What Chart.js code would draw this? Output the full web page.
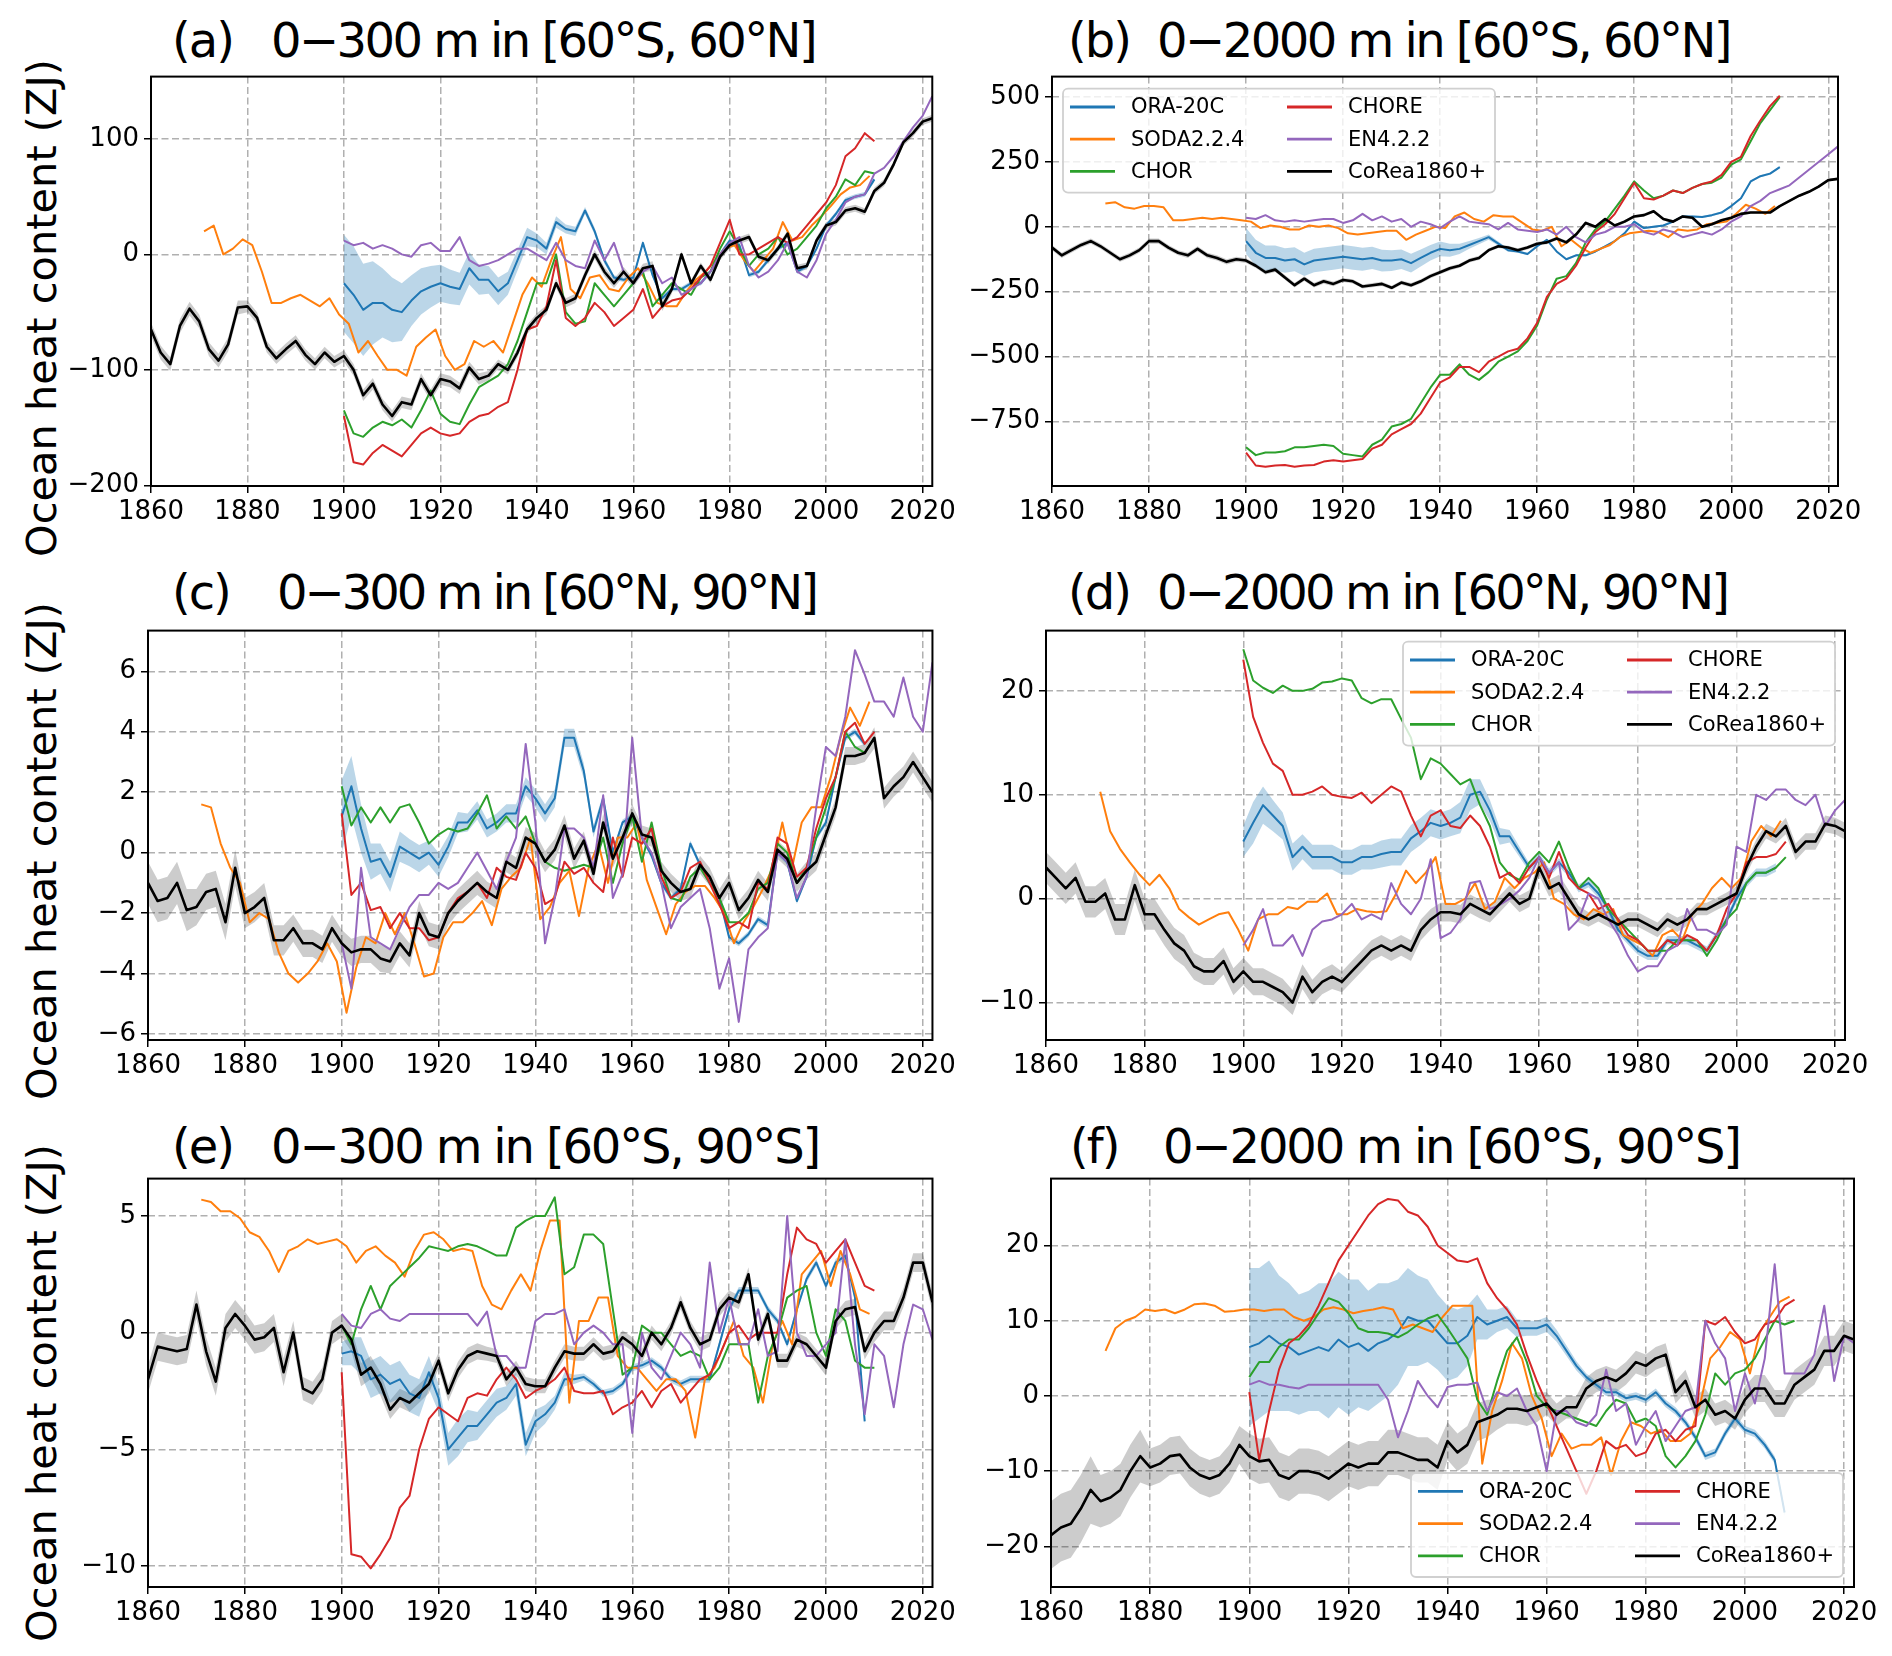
<!DOCTYPE html>
<html>
<head>
<meta charset="utf-8">
<title>Ocean heat content</title>
<script src="https://cdn.jsdelivr.net/npm/chart.js@4.4.1/dist/chart.umd.min.js"></script>
<style>
    html, body { margin: 0; padding: 0; background: #fff; }
    #page { position: relative; width: 1892px; height: 1656px; overflow: hidden; font-family: 'DejaVu Sans', sans-serif; color: #000; }
    #page canvas { position: absolute; }
    .ttl { position: absolute; font-size: 48px; line-height: 1; white-space: pre; }
    .ylab { position: absolute; font-size: 41.5px; white-space: nowrap; transform: translate(-50%, -50%) rotate(-90deg); }
</style>
</head>
<body>
<div id="page"></div>
<script>
/**
 * Ocean heat content, six panels (a)-(f)
 * values every 2 years
 */
const X_TICKS = [1860, 1880, 1900, 1920, 1940, 1960, 1980, 2000, 2020];
const STEP = 2;
const COREA_START = 1860;
const SODA_START = 1871;
const MODEL_START = 1900; // ORA-20C, CHOR, CHORE, EN4.2.2

// (a) 0-300 m, 60S-60N
const yTicksA = [-200, -100, 0, 100];
const coreaA = [-65, -85, -95, -62, -47, -58, -82, -92, -78, -46,
    -45, -55, -80, -90, -82, -75, -87, -95, -85, -93,
    -88, -100, -122, -112, -130, -140, -128, -130, -108, -122,
    -108, -110, -116, -98, -108, -105, -95, -100, -85, -65,
    -55, -48, -25, -42, -38, -18, 0, -15, -25, -15,
    -25, -12, -10, -45, -30, 0, -25, -10, -22, -2,
    8, 12, 15, -2, -5, 5, 18, -12, -10, 12,
    25, 28, 38, 40, 37, 55, 62, 78, 97, 105,
    115, 118];
const coreaSpreadA = [6, 6, 5, 5, 5, 5, 5, 4, 4, 4, 4, 3, 3, 3, 3, 3, 3];
const oraA = [-25, -35, -48, -42, -42, -48, -50, -40, -32, -28,
    -25, -28, -30, -12, -22, -22, -32, -25, -5, 15,
    12, 5, 28, 22, 20, 38, 20, -5, -20, -22,
    -20, 10, -18, -38, -30, -30, -25, -25, -15, 0,
    12, 8, -18, -15, -5, 5, 10, -15, -10, 5,
    25, 35, 47, 50, 52, 65];
const oraSpreadA = [42, 42, 40, 36, 30, 28, 25, 22, 20, 18,
    16, 15, 14, 14, 13, 12, 12, 10, 9, 8,
    6, 5, 5, 4, 4, 3, 3, 3, 2, 2,
    2, 2, 2, 2, 2, 2, 2, 2, 2, 2,
    2, 2, 2, 2, 2, 2, 2, 2, 2, 2,
    2, 2, 2, 2, 2, 2];
const sodaA = [20, 25, 0, 5, 13, 8, -15, -42, -42, -38,
    -35, -40, -45, -38, -52, -60, -85, -75, -88, -100,
    -100, -105, -80, -72, -65, -88, -100, -95, -75, -80,
    -75, -85, -60, -35, -20, -28, -5, 15, -30, -38,
    -20, -18, -30, -32, -20, -12, -25, -42, -45, -45,
    -32, -22, -15, -5, 5, 8, -5, -15, -5, 5,
    28, 12, 15, 25, 33, 42, 52, 58, 60, 68];
const chorA = [-135, -155, -158, -150, -145, -148, -143, -150, -135, -118,
    -138, -145, -147, -130, -115, -110, -105, -95, -75, -50,
    -25, -25, 0, -50, -60, -58, -25, -35, -45, -35,
    -25, -15, -45, -35, -25, -30, -35, -20, -15, 5,
    20, 5, -10, 0, 5, 15, 0, 5, 15, 25,
    40, 50, 65, 60, 72, 70];
const choreA = [-140, -180, -182, -172, -165, -170, -175, -165, -155, -150,
    -155, -157, -155, -145, -140, -138, -132, -128, -100, -65,
    -62, -45, -5, -55, -62, -55, -42, -50, -62, -55,
    -48, -30, -55, -45, -40, -38, -30, -20, -10, 10,
    30, 0, 0, 5, 10, 15, 10, 15, 25, 35,
    45, 60, 85, 92, 105, 98];
const en4A = [12, 8, 10, 5, 8, 5, 0, -2, 8, 10,
    3, 3, 15, -5, -10, -8, -5, 0, 5, 5,
    0, -5, 10, -5, -10, -12, 12, -5, 10, -15,
    -25, -15, -10, -25, -20, -35, -30, -25, -15, 0,
    10, 15, -10, -20, -15, -5, 10, -15, -20, -5,
    18, 30, 45, 50, 52, 70, 75, 85, 98, 110,
    120, 137];

// (b) 0-2000 m, 60S-60N
const yTicksB = [-750, -500, -250, 0, 250, 500];
const coreaB = [-80, -110, -90, -70, -55, -75, -100, -125, -110, -90,
    -55, -55, -80, -100, -110, -85, -110, -120, -135, -125,
    -130, -150, -175, -165, -195, -225, -200, -225, -210, -220,
    -205, -210, -230, -225, -220, -235, -215, -225, -210, -190,
    -175, -160, -150, -130, -120, -90, -75, -80, -90, -80,
    -65, -60, -45, -60, -30, 15, 0, 30, 5, 20,
    40, 45, 60, 30, 20, 40, 35, 0, 10, 25,
    35, 50, 55, 55, 55, 80, 100, 120, 135, 155,
    180, 185];
const coreaSpreadB = [10, 10, 10, 10, 9, 9, 8, 8, 8, 7, 7, 6, 6, 6, 5, 5, 5];
const oraB = [-55, -100, -120, -120, -130, -125, -145, -130, -125, -120,
    -115, -120, -125, -120, -130, -130, -125, -140, -120, -100,
    -85, -90, -85, -70, -55, -40, -65, -90, -95, -105,
    -75, -50, -95, -125, -110, -110, -95, -75, -55, -25,
    20, -5, 0, 5, 20, 40, 40, 38, 45, 55,
    80, 110, 175, 195, 205, 230];
const oraSpreadB = [50, 50, 48, 48, 47, 46, 45, 45, 45, 45,
    45, 45, 44, 43, 42, 40, 38, 36, 33, 30,
    28, 25, 20, 15, 12, 10, 8, 6, 5, 5,
    4, 4, 4, 4, 4, 4, 4, 4, 4, 4,
    4, 4, 4, 4, 4, 4, 4, 4, 4, 4,
    4, 4, 4, 4, 4, 4];
const sodaB = [90, 95, 75, 70, 80, 80, 75, 25, 25, 30,
    35, 30, 35, 30, 25, 20, -5, 5, 0, -10,
    -10, 5, 0, 5, -5, -25, -30, -25, -20, -15,
    -15, -50, -30, -15, 0, -5, 40, 55, 30, 20,
    45, 40, 40, 15, -10, -15, 0, -75, -50, -80,
    -100, -85, -70, -40, -25, -20, -15, -20, -40, -10,
    -15, -10, 10, 15, 20, 50, 85, 70, 50, 80];
const chorB = [-850, -880, -870, -870, -865, -850, -850, -845, -840, -845,
    -875, -880, -885, -840, -820, -770, -760, -740, -680, -620,
    -570, -570, -530, -570, -590, -560, -520, -500, -480, -440,
    -380, -280, -200, -190, -140, -60, -10, 20, 70, 120,
    175, 140, 110, 120, 140, 130, 150, 165, 170, 190,
    240, 260, 330, 400, 450, 500];
const choreB = [-870, -920, -925, -920, -918, -925, -920, -918, -905, -900,
    -905, -900, -895, -855, -840, -800, -780, -760, -720, -660,
    -600, -580, -540, -540, -560, -520, -500, -480, -470, -430,
    -370, -270, -220, -200, -150, -80, -20, 10, 50, 110,
    170, 110, 105, 120, 140, 130, 150, 165, 175, 200,
    250, 270, 350, 410, 465, 505];
const en4B = [35, 30, 45, 25, 20, 25, 20, 25, 30, 30,
    15, 25, 50, 25, 40, 20, 30, 0, 20, 10,
    -5, 20, 40, 20, 15, 10, -10, 15, -10, -15,
    -20, -10, -30, 0, -40, -60, -30, -20, 0, 0,
    10, -20, -30, -10, -20, -40, -30, -20, -30, -10,
    20, 40, 80, 100, 130, 145, 160, 190, 220, 250,
    280, 310];

// (c) 0-300 m, 60N-90N
const yTicksC = [-6, -4, -2, 0, 2, 4, 6];
const coreaC = [-1.0, -1.6, -1.5, -1.0, -1.9, -1.8, -1.3, -1.2, -2.3, -0.5,
    -2.0, -1.8, -1.5, -2.9, -2.9, -2.5, -3.0, -3.0, -3.2, -2.5,
    -3.0, -3.3, -3.2, -3.2, -3.5, -3.6, -3.0, -3.4, -2.0, -2.7,
    -2.8, -2.0, -1.6, -1.3, -1.0, -1.3, -1.5, -0.3, -0.5, 0.5,
    0.3, -0.3, 0.1, 0.9, -0.2, 0.4, -0.7, 1.0, -0.2, 0.5,
    1.3, 0.6, 0.5, -0.6, -1.0, -1.3, -1.2, -0.4, -0.8, -1.5,
    -1.0, -1.9, -1.5, -0.9, -1.3, 0.1, -0.2, -1.0, -0.6, -0.3,
    0.6, 1.5, 3.2, 3.2, 3.3, 3.8, 1.8, 2.2, 2.5, 3.0,
    2.5, 2.0];
const coreaSpreadC = [0.7, 0.6, 0.5, 0.45, 0.45, 0.4, 0.4, 0.35, 0.35, 0.3, 0.3, 0.3, 0.3, 0.3, 0.3, 0.35, 0.35];
const oraC = [1.2, 2.2, 0.8, -0.3, -0.2, -0.8, 0.2, 0.0, -0.2, 0.0,
    -0.4, 0.2, 1.0, 1.0, 1.4, 0.8, 1.0, 1.3, 1.3, 2.2,
    1.8, 1.3, 1.8, 3.8, 3.8, 2.7, 0.7, 1.8, 0.0, 1.0,
    1.2, 0.5, -0.1, -1.0, -1.5, -1.2, 0.3, -0.4, -1.0, -1.5,
    -2.8, -3.0, -2.7, -2.2, -2.4, 0.0, -0.3, -1.6, -0.8, 0.5,
    1.0, 2.5, 3.8, 4.0, 3.6];
const oraSpreadC = [1.2, 1.0, 0.8, 0.6, 0.5, 0.5, 0.5, 0.45, 0.45, 0.4,
    0.4, 0.35, 0.35, 0.3, 0.3, 0.3, 0.3, 0.3, 0.3, 0.3,
    0.3, 0.3, 0.3, 0.3, 0.3, 0.25, 0.2, 0.15, 0.12, 0.1,
    0.1, 0.1, 0.1, 0.1, 0.1, 0.1, 0.1, 0.1, 0.1, 0.1,
    0.1, 0.1, 0.1, 0.1, 0.1, 0.1, 0.1, 0.1, 0.1, 0.1,
    0.1, 0.1, 0.1, 0.1, 0.1];
const sodaC = [1.6, 1.5, 0.3, -0.5, -1.0, -2.3, -2.0, -2.2, -3.3, -4.0,
    -4.3, -4.0, -3.6, -3.0, -3.6, -5.3, -3.8, -2.8, -3.0, -2.0,
    -2.7, -2.0, -3.0, -4.1, -4.0, -2.8, -2.3, -2.3, -2.0, -1.6,
    -2.4, -1.2, -0.8, -0.5, 0.5, -2.2, -1.8, -1.0, -0.6, -2.1,
    -0.5, 0.3, -1.0, 0.5, 0.5, 1.0, -0.9, -1.8, -2.7, -1.7,
    -1.3, -1.1, -1.1, -1.5, -2.0, -3.0, -2.3, -1.8, -1.2, -0.5,
    1.0, -0.5, 1.0, 1.5, 1.5, 2.5, 3.8, 4.8, 4.2, 5.0];
const chorC = [2.2, 0.9, 1.5, 1.0, 1.5, 1.0, 1.5, 1.6, 1.0, 0.3,
    0.6, 0.8, 0.7, 0.8, 1.3, 1.9, 0.8, 1.2, 0.8, 1.2,
    0.3, -0.3, -0.5, -0.6, -0.5, -0.4, -0.5, 0.5, -1.0, 0.3,
    1.2, -0.3, 1.0, -0.5, -1.5, -1.6, -0.8, -0.5, -1.0, -1.5,
    -2.3, -2.3, -2.0, -1.2, -1.0, 0.3, 0.0, -1.0, -0.5, 0.5,
    1.5, 2.5, 4.0, 3.5, 3.3, 3.8];
const choreC = [1.3, -1.4, -1.0, -1.9, -1.8, -2.5, -2.0, -2.5, -2.5, -2.9,
    -2.8, -2.0, -1.5, -1.3, -1.0, -1.5, -0.5, -0.8, -0.9, 0.0,
    -0.5, -1.7, -1.5, -0.3, -0.7, -0.5, -1.0, -1.3, 0.5, -0.8,
    0.5, 0.3, 0.8, -0.8, -1.5, -1.3, -0.5, -0.3, -1.0, -1.7,
    -2.5, -2.3, -2.5, -1.0, -1.2, 0.5, 0.3, -0.8, -0.5, 0.8,
    1.8, 2.5, 4.0, 4.3, 3.6, 4.0];
const en4C = [-3.0, -4.5, -0.5, -2.8, -3.0, -3.2, -2.5, -1.8, -1.4, -1.4,
    -1.0, -1.2, -1.0, -0.5, 0.0, -0.6, -1.2, -0.3, 0.5, 3.6,
    1.0, -3.0, -1.5, 0.8, 0.8, 0.5, -0.5, 1.9, -1.5, -0.7,
    3.8, 0.5, 0.0, -1.0, -2.5, -1.8, -1.5, -1.2, -2.5, -4.5,
    -3.5, -5.6, -3.2, -2.8, -2.5, 0.0, -0.3, -1.5, -0.8, 1.5,
    3.5, 3.2, 4.5, 6.7, 5.9, 5.0, 5.0, 4.5, 5.8, 4.5,
    4.0, 6.3];

// (d) 0-2000 m, 60N-90N
const yTicksD = [-10, 0, 10, 20];
const coreaD = [3.0, 2.0, 1.0, 2.0, -0.3, -0.3, 0.5, -2.0, -2.0, 1.3,
    -1.5, -1.5, -3.0, -4.3, -5.0, -6.5, -7.0, -7.0, -6.0, -8.0,
    -7.0, -8.0, -8.0, -8.5, -9.0, -10.0, -7.5, -9.0, -8.0, -7.5,
    -8.0, -7.0, -6.0, -5.0, -4.5, -5.0, -4.5, -5.0, -3.0, -2.0,
    -1.3, -1.3, -1.5, -0.5, -1.0, -1.5, -0.5, 0.5, -0.5, 0.0,
    3.0, 1.0, 1.5, 0.0, -1.5, -2.0, -1.5, -2.0, -2.5, -2.0,
    -2.0, -2.5, -3.0, -2.0, -2.5, -2.0, -1.0, -1.0, -0.5, 0.0,
    0.5, 3.0, 5.0, 6.5, 6.0, 7.0, 4.5, 5.5, 5.5, 7.2,
    7.0, 6.5];
const coreaSpreadD = [1.5, 1.5, 1.5, 1.3, 1.3, 1.2, 1.0, 1.0, 0.9, 0.8, 0.8, 0.7, 0.7, 0.6, 0.7, 0.8, 0.8];
const oraD = [5.5, 7.3, 9.0, 8.0, 7.0, 4.0, 5.0, 4.0, 4.0, 4.0,
    3.5, 3.5, 4.0, 4.0, 4.3, 4.5, 4.5, 5.8, 6.5, 7.3,
    7.0, 7.3, 7.8, 10.0, 10.3, 8.5, 6.0, 6.0, 4.5, 3.0,
    4.0, 2.5, 3.5, 2.5, 1.0, 1.5, 0.5, -1.0, -3.0, -4.0,
    -5.0, -5.5, -5.5, -4.0, -4.0, -4.0, -4.5, -5.0, -3.5, -2.0,
    0.0, 1.5, 2.5, 2.5, 3.0];
const oraSpreadD = [1.5, 2.0, 1.8, 1.5, 1.3, 1.3, 1.2, 1.2, 1.2, 1.2,
    1.2, 1.2, 1.2, 1.2, 1.3, 1.3, 1.3, 1.3, 1.3, 1.3,
    1.3, 1.3, 1.5, 1.5, 1.2, 1.0, 0.8, 0.6, 0.5, 0.4,
    0.4, 0.4, 0.4, 0.4, 0.4, 0.4, 0.4, 0.4, 0.4, 0.4,
    0.4, 0.4, 0.4, 0.4, 0.4, 0.4, 0.4, 0.4, 0.4, 0.4,
    0.4, 0.4, 0.4, 0.4, 0.4];
const sodaD = [10.3, 6.5, 4.8, 3.5, 2.3, 1.3, 2.3, 1.0, -1.0, -1.8,
    -2.5, -2.0, -1.5, -1.3, -3.0, -5.0, -2.0, -1.5, -1.5, -0.8,
    -1.0, -0.3, -0.3, 0.5, -1.5, -1.5, -1.0, -1.2, -1.3, -1.2,
    0.5, 2.7, 1.5, 2.5, 4.0, -0.5, -0.5, 0.0, 1.5, -1.0,
    -0.3, 2.0, 1.0, 2.0, 2.5, 3.5, 0.0, -0.5, -1.5, -2.0,
    -1.0, -1.5, -1.0, -3.5, -4.0, -4.5, -5.5, -3.5, -3.0, -4.0,
    -1.5, -0.5, 1.0, 2.0, 1.0, 2.0, 5.5, 7.0, 6.0, 7.5];
const chorD = [24, 21, 20.3, 19.8, 20.5, 20, 20, 20.2, 20.8, 20.9,
    21.2, 21, 19.3, 18.8, 19.2, 19.2, 17.3, 15.5, 11.5, 13.5,
    13, 12, 11, 11.5, 9, 7, 3.5, 2.3, 1.8, 3.5,
    4.5, 3.5, 5.5, 3.0, 1.0, 2.0, 1.0, -1.0, -2.0, -3.0,
    -4.0, -5.0, -5.0, -5.0, -4.0, -4.0, -4.0, -5.5, -4.0, -2.0,
    -1.0, 1.5, 2.5, 2.5, 3.0, 4.0];
const choreD = [23, 17.5, 15, 13, 12.3, 10, 10, 10.3, 10.8, 10,
    9.8, 9.7, 10.2, 9.2, 10, 10.8, 10.3, 8, 6, 8,
    8.5, 7, 6.8, 8, 7, 5, 2, 2.5, 1.5, 3,
    4, 2, 4.5, 2, 1, 0.5, -1, -0.5, -2, -3.5,
    -4, -5, -5, -4, -4.5, -3.5, -4, -5, -3.5, -1,
    0.5, 3.5, 4, 4, 4.3, 5.5];
const en4D = [-4.5, -3.0, -1.0, -4.5, -4.5, -3.5, -5.5, -3.0, -2.2, -2.0,
    -1.5, -0.5, -2.0, -1.5, -2.0, 1.5, -0.5, -1.5, 0.0, 3.8,
    -3.8, -3.3, -2.0, 1.5, 1.7, -1.0, -0.6, 0.0, 0.8, 2.0,
    4.0, 2.5, 3.5, -3.0, -2.0, 0.5, 0.0, -2.0, -3.5, -5.5,
    -7.0, -6.5, -6.5, -5.0, -4.5, -1.0, -3.0, -3.0, -3.5, -2.5,
    5.0, 4.5, 10.0, 9.5, 10.5, 10.5, 9.5, 9.0, 10.0, 7.0,
    8.5, 9.5];

// (e) 0-300 m, 60S-90S
const yTicksE = [-10, -5, 0, 5];
const coreaE = [-2.0, -0.6, -0.7, -0.8, -0.7, 1.2, -0.8, -2.1, 0.2, 0.8,
    0.3, -0.3, -0.2, 0.2, -1.7, 0.0, -2.4, -2.6, -2.0, 0.0,
    0.3, -0.3, -1.8, -1.5, -2.2, -3.3, -2.8, -3.0, -2.6, -2.2,
    -1.2, -2.6, -1.6, -1.0, -0.8, -0.9, -1.0, -2.0, -1.5, -2.2,
    -2.3, -2.3, -1.5, -0.8, -0.9, -0.9, -0.5, -0.9, -0.8, -0.2,
    -0.5, -1.0, 0.0, -0.5, 0.2, 1.3, 0.2, -0.5, -0.3, 1.0,
    1.5, 1.3, 2.5, -0.3, 0.8, -1.2, -1.2, -0.3, -0.5, -1.0,
    -1.5, 0.5, 1.0, 1.1, -0.8, 0.0, 0.5, 0.5, 1.5, 3.0,
    3.0, 1.3];
const coreaSpreadE = [0.6, 0.6, 0.6, 0.5, 0.5, 0.4, 0.35, 0.3, 0.3, 0.3, 0.3, 0.3, 0.3, 0.3, 0.35, 0.4, 0.4];
const oraE = [-0.9, -0.8, -1.0, -2.0, -1.8, -2.2, -2.0, -2.6, -2.8, -1.7,
    -2.8, -5.0, -4.5, -4.0, -4.0, -3.5, -3.0, -2.8, -2.2, -4.8,
    -3.8, -3.5, -3.0, -2.0, -2.0, -1.9, -2.2, -2.6, -2.5, -2.2,
    -1.5, -1.4, -1.2, -1.5, -2.0, -2.2, -2.0, -2.0, -2.0, -0.5,
    1.0, 1.8, 1.8, 1.8, 1.0, 0.5, -0.5, 1.0, 2.3, 3.0,
    2.0, 3.0, 3.3, 1.5, -3.8];
const oraSpreadE = [0.5, 0.6, 0.8, 0.8, 0.8, 0.8, 0.8, 0.8, 0.8, 0.7,
    0.6, 0.7, 0.8, 0.7, 0.6, 0.6, 0.6, 0.5, 0.5, 0.5,
    0.5, 0.4, 0.3, 0.3, 0.2, 0.15, 0.15, 0.15, 0.15, 0.15,
    0.15, 0.15, 0.15, 0.15, 0.15, 0.15, 0.15, 0.15, 0.15, 0.15,
    0.15, 0.15, 0.15, 0.15, 0.15, 0.15, 0.15, 0.15, 0.15, 0.15,
    0.15, 0.15, 0.15, 0.15, 0.15];
const sodaE = [5.7, 5.6, 5.2, 5.2, 4.9, 4.3, 4.1, 3.5, 2.6, 3.5,
    3.7, 4.0, 3.8, 3.9, 4.0, 3.7, 3.0, 3.5, 3.7, 3.3,
    3.0, 2.4, 3.5, 4.2, 4.3, 4.0, 3.5, 3.6, 3.5, 2.0,
    1.2, 1.0, 1.8, 2.5, 1.8, 3.5, 4.8, 4.8, -3.0, 0.5,
    0.5, 1.5, 1.5, -1.0, -1.5, -1.5, -2.0, -2.5, -2.0, -2.0,
    -2.5, -4.5, -2.0, -1.5, -0.5, 0.5, -1.0, -1.5, -3.0, -0.5,
    0.5, -0.5, 2.5, 3.0, 3.5, 2.0, 3.5, 2.5, 1.0, 0.8];
const chorE = [0.3, -0.5, 1.0, 2.0, 1.0, 2.0, 2.4, 2.8, 3.2, 3.7,
    3.6, 3.5, 3.7, 3.8, 3.7, 3.5, 3.3, 3.3, 4.5, 4.8,
    5.0, 5.0, 5.8, 2.5, 2.8, 4.2, 4.2, 3.8, 1.0, -1.8,
    -1.5, 0.3, 0.0, 0.0, -0.5, -1.0, -0.8, -1.0, -2.0, -1.5,
    -0.5, -0.5, -0.5, -3.0, -1.0, 0.0, 1.5, 1.8, 2.0, 0.0,
    -1.0, 1.0, 0.5, -1.2, -1.5, -1.5];
const choreE = [-1.7, -9.5, -9.6, -10.1, -9.5, -8.8, -7.5, -7.0, -5.0, -3.7,
    -3.2, -3.5, -3.8, -2.8, -2.6, -2.7, -2.0, -1.5, -2.0, -2.8,
    -2.5, -2.3, -2.0, -1.5, -2.5, -2.6, -2.6, -2.5, -3.5, -3.2,
    -3.0, -2.5, -3.2, -2.5, -2.2, -3.0, -2.5, -2.0, -1.8, -1.0,
    0.0, 0.3, -0.3, 0.0, 0.0, 0.0, 2.5, 4.5, 4.0, 3.8,
    3.0, 3.5, 4.0, 3.0, 2.0, 1.8];
const en4E = [0.8, 0.3, 0.2, 0.8, 1.0, 0.6, 0.5, 0.8, 0.8, 0.8,
    0.8, 0.8, 0.8, 0.8, 0.3, 0.9, -1.0, -1.0, -1.5, -1.5,
    0.5, 0.8, 0.8, 1.0, -0.5, 0.0, 0.3, 0.0, -0.5, -0.5,
    -4.3, 0.0, -1.5, -2.0, -1.0, 0.0, -0.5, -1.5, 3.0, 0.0,
    1.5, -0.5, -0.5, 1.0, -1.0, -0.8, 5.0, 0.0, -1.0, -1.0,
    -0.5, 0.0, 4.0, -0.5, -3.5, -0.5, -1.0, -3.2, -0.5, 1.2,
    1.0, -0.3];

// (f) 0-2000 m, 60S-90S
const yTicksF = [-20, -10, 0, 10, 20];
const coreaF = [-18.5, -17.5, -17.0, -15.0, -12.5, -14.0, -13.5, -12.5, -10.0, -8.0,
    -9.5, -9.0, -8.0, -7.8, -9.5, -10.5, -11.0, -10.5, -9.0, -6.5,
    -8.0, -8.7, -8.5, -10.5, -11.0, -10.0, -10.0, -10.3, -11.0, -10.0,
    -9.0, -9.5, -9.0, -9.0, -7.5, -7.5, -8.0, -8.5, -8.5, -9.5,
    -6.0, -7.5, -6.5, -3.5, -3.0, -2.5, -1.7, -1.7, -2.0, -1.5,
    -1.0, -2.5, -1.5, -1.5, 1.0, 2.0, 2.5, 2.0, 3.0, 4.5,
    4.0, 5.0, 5.5, 0.5, 2.0, -1.5, -0.5, -2.5, -2.0, -3.0,
    -0.5, 1.0, 1.0, -1.0, -1.0, 1.5, 2.5, 3.5, 6.0, 6.0,
    8.0, 7.5];
const coreaSpreadF = [4.5, 3.5, 2.5, 2.5, 3, 3, 3, 3, 2.5, 2, 1.5, 1.5, 1.5, 1.5, 1.8, 2, 2];
const oraF = [6.5, 7.0, 8.0, 7.0, 6.5, 5.5, 6.0, 6.5, 6.0, 7.5,
    6.5, 7.0, 6.0, 7.0, 7.5, 8.5, 10.5, 10.0, 10.0, 8.5,
    7.0, 7.0, 8.0, 10.5, 9.5, 10.0, 10.5, 9.0, 9.0, 9.0,
    9.5, 8.0, 6.0, 4.0, 2.5, 1.5, 0.5, 0.5, -0.3, 0.0,
    -0.5, 0.5, -1.0, -2.0, -3.5, -5.5, -8.0, -7.5, -5.0, -3.0,
    -4.5, -5.0, -6.5, -8.5, -15.5];
const oraSpreadF = [10.5, 10, 10, 9, 8.5, 8, 8, 8.5, 9, 9,
    9, 8.5, 8, 8, 7.5, 7, 6.5, 6, 5.5, 5,
    5, 4.5, 4, 3, 2, 1.5, 1.5, 1.2, 1, 1,
    1, 0.8, 0.7, 0.6, 0.5, 0.5, 0.5, 0.5, 0.5, 0.5,
    0.5, 0.5, 0.5, 0.5, 0.5, 0.5, 0.5, 0.5, 0.5, 0.5,
    0.5, 0.5, 0.5, 0.5, 0.5];
const sodaF = [6.0, 9.0, 10.0, 10.5, 11.5, 11.3, 11.5, 11.0, 11.5, 12.2,
    12.3, 12.0, 11.2, 11.3, 11.5, 11.5, 11.3, 11.5, 11.5, 10.5,
    10.0, 10.5, 11.5, 11.8, 11.5, 11.0, 11.3, 11.5, 11.8, 11.5,
    9.0, 9.5, 9.0, 8.5, 10.5, 12.0, 12.0, 12.0, -9.0, -2.0,
    2.0, 7.0, 5.0, 0.0, -3.0, -8.0, -5.0, -7.0, -6.5, -6.5,
    -5.5, -10.5, -6.0, -3.5, -4.0, -5.0, -4.5, -6.0, -6.0, -5.0,
    -1.0, 5.0, 6.5, 8.5, 7.5, 3.0, 8.5, 10.5, 12.5, 13.2];
const chorF = [2.5, 4.5, 4.5, 6.5, 7.5, 7.5, 9.0, 11.0, 13.0, 12.5,
    11.0, 9.0, 8.5, 8.5, 8.3, 7.8, 8.5, 9.5, 10.3, 10.8,
    9.0, 7.0, 5.0, -0.5, -2.5, 2.0, 6.0, 7.8, 4.5, 0.0,
    -1.5, -2.0, -2.5, -3.0, -3.5, -4.0, -2.0, -0.5, -1.0, -3.5,
    -3.0, -4.0, -8.0, -9.5, -8.0, -6.0, -2.5, 3.0, 1.5, 3.0,
    3.5, 5.0, 7.5, 10.0, 9.5, 10.0];
const choreF = [0.5, -8.5, -2.0, 3.5, 7.0, 8.0, 9.5, 12.0, 15.0, 18.0,
    20.0, 22.0, 24.0, 25.5, 26.2, 26.0, 24.5, 24.0, 22.5, 20.0,
    19.0, 18.0, 17.8, 18.3, 15.0, 13.0, 11.5, 9.5, 5.5, 2.0,
    -1.0, -4.0, -7.0, -10.0, -13.0, -10.0, -6.0, -7.0, -6.5, -8.0,
    -7.5, -5.0, -4.5, -6.0, -4.5, -4.0, 10.0, 9.5, 10.5, 8.5,
    7.0, 7.5, 9.5, 10.0, 12.0, 12.8];
const en4F = [1.5, 2.0, 1.5, 1.5, 1.2, 1.0, 1.5, 1.5, 1.5, 1.5,
    1.5, 1.5, 1.5, 1.5, -0.5, -5.5, -2.0, 2.0, 0.0, -1.5,
    1.2, 1.5, 1.5, 1.8, -2.0, 0.5, 0.0, 1.0, -2.0, -4.0,
    -10.0, -2.0, -2.0, -3.5, -4.0, -2.5, 3.5, -2.0, -1.0, -6.5,
    -4.0, -2.0, -6.0, -4.0, -2.0, -1.5, 10.0, 7.0, 5.0, -2.0,
    3.0, -1.0, 5.0, 17.5, 3.0, 3.0, 3.0, 5.5, 12.0, 2.0,
    8.0, 7.0];

(function () {
    'use strict';

    const X_MIN = 1860;
    const X_MAX = 2022;
    const FONT = 'DejaVu Sans';

    const SERIES = [
        { key: 'ora', label: 'ORA-20C', color: '#1f77b4', start: MODEL_START },
        { key: 'soda', label: 'SODA2.2.4', color: '#ff7f0e', start: SODA_START },
        { key: 'chor', label: 'CHOR', color: '#2ca02c', start: MODEL_START },
        { key: 'chore', label: 'CHORE', color: '#d62728', start: MODEL_START },
        { key: 'en4', label: 'EN4.2.2', color: '#9467bd', start: MODEL_START },
        { key: 'corea', label: 'CoRea1860+', color: '#000000', start: COREA_START }
    ];

    // plot = chart area [l, t, r, b], box = canvas [l, t, r, b] in page px
    // titleX = [left, right] of the title text
    const PANELS = [
        { tag: '(a)', title: '0\u2212300 m in [60°S, 60°N]', yRange: [-200.6, 154], yTicks: yTicksA,
          d: { ora: oraA, oraSpread: oraSpreadA, soda: sodaA, chor: chorA, chore: choreA, en4: en4A, corea: coreaA, coreaSpread: coreaSpreadA },
          plot: [151, 71, 937, 486], box: [0, 56, 960, 552], tagX: 172, titleX: [271, 815], titleTop: 16, ylabelY: 308 },
        { tag: '(b)', title: '0\u22122000 m in [60°S, 60°N]', yRange: [-999, 579], yTicks: yTicksB,
          d: { ora: oraB, oraSpread: oraSpreadB, soda: sodaB, chor: chorB, chore: choreB, en4: en4B, corea: coreaB, coreaSpread: coreaSpreadB },
          plot: [1052, 71, 1838, 486], box: [960, 56, 1892, 552], tagX: 1068, titleX: [1157, 1730], titleTop: 16,
          legend: { corner: 'tl', dx: 11, dy: 12 } },
        { tag: '(c)', title: '0\u2212300 m in [60°N, 90°N]', yRange: [-6.2, 7.35], yTicks: yTicksC,
          d: { ora: oraC, oraSpread: oraSpreadC, soda: sodaC, chor: chorC, chore: choreC, en4: en4C, corea: coreaC, coreaSpread: coreaSpreadC },
          plot: [148, 625, 948, 1040], box: [0, 610, 960, 1106], tagX: 172, titleX: [277, 816], titleTop: 568, ylabelY: 851 },
        { tag: '(d)', title: '0\u22122000 m in [60°N, 90°N]', yRange: [-13.6, 25.8], yTicks: yTicksD,
          d: { ora: oraD, oraSpread: oraSpreadD, soda: sodaD, chor: chorD, chore: choreD, en4: en4D, corea: coreaD, coreaSpread: coreaSpreadD },
          plot: [1046, 625, 1845, 1040], box: [960, 610, 1892, 1106], tagX: 1068, titleX: [1157, 1727], titleTop: 568,
          legend: { corner: 'tr', dx: 10, dy: 11 } },
        { tag: '(e)', title: '0\u2212300 m in [60°S, 90°S]', yRange: [-10.9, 6.6], yTicks: yTicksE,
          d: { ora: oraE, oraSpread: oraSpreadE, soda: sodaE, chor: chorE, chore: choreE, en4: en4E, corea: coreaE, coreaSpread: coreaSpreadE },
          plot: [148, 1173, 951, 1587], box: [0, 1158, 960, 1656], tagX: 172, titleX: [271, 819], titleTop: 1122, ylabelY: 1393 },
        { tag: '(f)', title: '0\u22122000 m in [60°S, 90°S]', yRange: [-25.4, 28.9], yTicks: yTicksF,
          d: { ora: oraF, oraSpread: oraSpreadF, soda: sodaF, chor: chorF, chore: choreF, en4: en4F, corea: coreaF, coreaSpread: coreaSpreadF },
          plot: [1051, 1173, 1854, 1587], box: [960, 1158, 1892, 1656], tagX: 1070, titleX: [1163, 1740], titleTop: 1122,
          legend: { corner: 'br', dx: 11, dy: 10 } }
    ];

    const toPoints = (values, start) => values.map((y, i) => ({ x: start + STEP * i, y }));

    // ORA spread is given per sample, CoRea spread per decade
    const bandPoints = (values, spread, start, sign, perDecade) => values.map((y, i) => {
        const x = start + STEP * i;
        const s = perDecade ? spread[Math.floor((x - COREA_START) / 10)] : spread[i];
        return { x, y: y + sign * s };
    });

    const fmtTick = v => (v < 0 ? '\u2212' + Math.abs(v) : String(v));

    const framePlugin = {
        id: 'frame',
        afterDraw(chart) {
            const { ctx, chartArea: a } = chart;
            ctx.save();
            ctx.strokeStyle = '#000';
            ctx.lineWidth = 2;
            ctx.strokeRect(a.left, a.top, a.right - a.left, a.bottom - a.top);
            ctx.restore();
        }
    };

    // two-column legend box like matplotlib's ncol=2
    const legendPlugin = {
        id: 'ohcLegend',
        afterDatasetsDraw(chart, args, opts) {
            if (!opts || !opts.corner) return;
            const { ctx, chartArea: a } = chart;
            const w = 432, h = 104, r = 5;
            const x = opts.corner.endsWith('l') ? a.left + opts.dx : a.right - opts.dx - w;
            const y = opts.corner.startsWith('t') ? a.top + opts.dy : a.bottom - opts.dy - h;

            ctx.save();
            ctx.beginPath();
            ctx.moveTo(x + r, y);
            ctx.arcTo(x + w, y, x + w, y + h, r);
            ctx.arcTo(x + w, y + h, x, y + h, r);
            ctx.arcTo(x, y + h, x, y, r);
            ctx.arcTo(x, y, x + w, y, r);
            ctx.closePath();
            ctx.fillStyle = 'rgba(255,255,255,0.8)';
            ctx.fill();
            ctx.strokeStyle = '#d0d0d0';
            ctx.lineWidth = 1.8;
            ctx.stroke();

            ctx.font = '21px "' + FONT + '"';
            ctx.textBaseline = 'middle';
            ctx.fillStyle = '#000';
            SERIES.forEach((s, i) => {
                const col = Math.floor(i / 3);
                const row = i % 3;
                const lx = x + (col === 0 ? 7 : 224);
                const ly = y + 18.4 + row * 32.2;
                ctx.beginPath();
                ctx.moveTo(lx, ly);
                ctx.lineTo(lx + 45, ly);
                ctx.strokeStyle = s.color;
                ctx.lineWidth = 2.8;
                ctx.stroke();
                ctx.fillText(s.label, lx + 61, ly + 1);
            });
            ctx.restore();
        }
    };

    class OhcPanel {
        constructor(spec, page) {
            this.spec = spec;
            this.page = page;
        }

        render() {
            this.addTexts();
            this.addChart();
        }

        addTexts() {
            const s = this.spec;
            const tag = this.addDiv('ttl', s.tag, s.tagX, s.titleTop);
            tag.style.letterSpacing = '-2px';
            const title = this.addDiv('ttl', s.title, s.titleX[0], s.titleTop);
            // tighten the spacing so the title spans the same width as the original
            const natural = title.getBoundingClientRect().width;
            const n = Array.from(s.title).length;
            title.style.letterSpacing = ((s.titleX[1] - s.titleX[0] - natural) / n).toFixed(2) + 'px';
            if (s.ylabelY) {
                this.addDiv('ylab', 'Ocean heat content (ZJ)', 41, s.ylabelY);
            }
        }

        addDiv(cls, text, left, top) {
            const el = document.createElement('div');
            el.className = cls;
            el.textContent = text;
            el.style.left = left + 'px';
            el.style.top = top + 'px';
            this.page.appendChild(el);
            return el;
        }

        buildDatasets() {
            const d = this.spec.d;
            const base = { pointRadius: 0, tension: 0, borderJoinStyle: 'round' };
            const band = (pts, color, order, fill) => Object.assign({}, base, {
                data: pts, borderWidth: 0, borderColor: 'rgba(0,0,0,0)',
                backgroundColor: color, fill, order
            });
            const line = (s, order, width) => Object.assign({}, base, {
                label: s.label, data: toPoints(d[s.key], s.start), borderColor: s.color,
                backgroundColor: s.color, borderWidth: width, fill: false, order
            });
            const sets = [
                band(bandPoints(d.corea, d.coreaSpread, COREA_START, 1, true), 'rgba(0,0,0,0.2)', 20, '+1'),
                band(bandPoints(d.corea, d.coreaSpread, COREA_START, -1, true), 'rgba(0,0,0,0.2)', 20, false),
                band(bandPoints(d.ora, d.oraSpread, MODEL_START, 1, false), 'rgba(31,119,180,0.3)', 19, '+1'),
                band(bandPoints(d.ora, d.oraSpread, MODEL_START, -1, false), 'rgba(31,119,180,0.3)', 19, false)
            ];
            // higher order is drawn first, CoRea1860+ ends on top
            SERIES.forEach((s, i) => {
                sets.push(line(s, 8 - i, s.key === 'corea' ? 2.6 : 2));
            });
            return sets;
        }

        addChart() {
            const s = this.spec;
            const [pl, pt, pr, pb] = s.plot;
            const [bl, bt, br, bb] = s.box;
            const canvas = document.createElement('canvas');
            canvas.width = br - bl;
            canvas.height = bb - bt;
            canvas.style.left = bl + 'px';
            canvas.style.top = bt + 'px';
            canvas.style.width = (br - bl) + 'px';
            canvas.style.height = (bb - bt) + 'px';
            this.page.appendChild(canvas);

            const tickFont = { family: FONT, size: 26 };
            const grid = { color: '#b0b0b0', lineWidth: 1.5, tickLength: 7, tickColor: '#000', tickWidth: 1.5 };
            const border = { display: false, dash: [7, 3.5] };

            new Chart(canvas, {
                type: 'line',
                data: { datasets: this.buildDatasets() },
                options: {
                    responsive: false,
                    animation: false,
                    devicePixelRatio: 1,
                    layout: { padding: { top: pt - bt, right: br - pr, left: 0, bottom: 0 } },
                    plugins: {
                        legend: { display: false },
                        tooltip: { enabled: false },
                        ohcLegend: s.legend || {}
                    },
                    scales: {
                        x: {
                            type: 'linear', min: X_MIN, max: X_MAX,
                            afterBuildTicks: sc => { sc.ticks = X_TICKS.map(value => ({ value })); },
                            afterFit: sc => { sc.height = bb - pb; },
                            ticks: { font: tickFont, color: '#000', padding: 4, maxRotation: 0, autoSkip: false, callback: v => String(v) },
                            grid, border
                        },
                        y: {
                            type: 'linear', min: s.yRange[0], max: s.yRange[1],
                            afterBuildTicks: sc => { sc.ticks = s.yTicks.map(value => ({ value })); },
                            afterFit: sc => { sc.width = pl - bl; },
                            ticks: { font: tickFont, color: '#000', padding: 5, autoSkip: false, callback: fmtTick },
                            grid, border
                        }
                    }
                },
                plugins: [framePlugin, legendPlugin]
            });
        }
    }

    const page = document.getElementById('page');
    PANELS.forEach(spec => new OhcPanel(spec, page).render());
})();
</script>
</body>
</html>
